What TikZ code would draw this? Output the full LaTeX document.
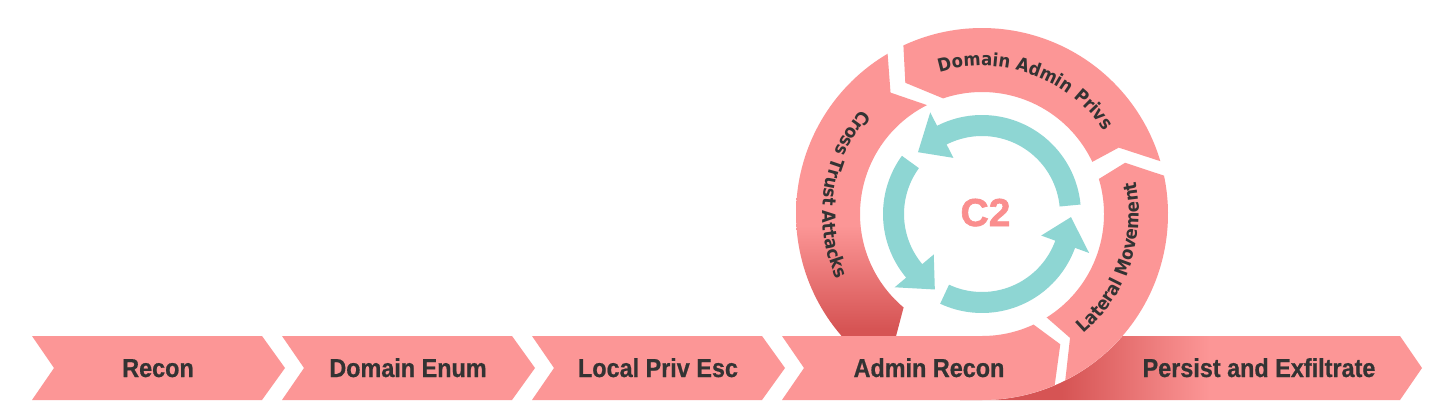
\documentclass[tikz,border=0pt]{standalone}
\usepackage{fontspec}
\usetikzlibrary{decorations.text}
\newfontfamily\chevfont{Liberation Sans Bold}[FakeStretch=0.9,FakeBold=0.6]
\newfontfamily\ringfont{DejaVu Sans Bold}[FakeStretch=0.9]
\newfontfamily\ctwofont{Liberation Sans Bold}[FakeBold=1.6]
\definecolor{ribpink}{RGB}{252,150,150}
\definecolor{ribdark}{RGB}{214,84,84}
\definecolor{tealc}{RGB}{142,214,211}
\definecolor{txtc}{RGB}{51,51,51}
\definecolor{ctwoc}{RGB}{250,142,142}
\pgfdeclarehorizontalshading{persistshade}{100bp}{color(0bp)=(ribdark); color(36bp)=(ribdark); color(52bp)=(ribpink); color(100bp)=(ribpink)}
\pgfdeclareverticalshading{crossshade}{100bp}{color(0bp)=(ribdark); color(27bp)=(ribdark); color(45bp)=(ribpink); color(100bp)=(ribpink)}
\newcommand{\tealarr}[3]{%
  \fill[tealfill] plot[domain=#1:#2, samples=40] ({99*cos(\x)},{99*sin(\x)})
   -- (#2:114) -- (#3:89) -- (#2:63)
   -- plot[domain=#2:#1, samples=40] ({78*cos(\x)},{78*sin(\x)}) -- cycle;}
\begin{document}
\begin{tikzpicture}[x=1pt,y=-1pt,
  ribfill/.style={fill=ribpink},
  tealfill/.style={fill=tealc},
  chevlab/.style={anchor=base, inner sep=0pt, text=txtc, font=\chevfont\fontsize{26}{30}\selectfont},
  ringlab/.style={decorate, decoration={text along path, text align=center, text={|\ringfont\fontsize{18.3}{20}\selectfont\color{txtc}|#1}}}]
\useasboundingbox (0,0) rectangle (1440,415);
\fill[white] (0,0) rectangle (1440,415);
% persist ribbon (goes behind the loop)
\shade[shading=persistshade] (960,336) -- (1400,336) -- (1422,368) -- (1400,400) -- (960,400) -- cycle;
\fill[white] (982,214) circle[radius=186];
% linear chevrons
\foreach \k/\lab in {0/Recon,1/Domain Enum,2/Local Priv Esc}{
  \fill[ribfill] ({32+250*\k},336) -- ({262+250*\k},336) -- ({285+250*\k},368) -- ({262+250*\k},400) -- ({32+250*\k},400) -- ({54+250*\k},368) -- cycle;
  \node[chevlab] (chev\k) at ({158+250*\k},377) {\lab};
}
\begin{scope}[shift={(982,214)}]
  % cross trust attacks (shaded, goes behind admin recon)
  \shade[shading=crossshade] plot[domain=-120.5:-222.6, samples=60] ({186*cos(\x)},{186*sin(\x)})
     -- (-87,126) -- (-230:122)
     -- plot[domain=-230:-116.8, samples=60] ({122*cos(\x)},{122*sin(\x)})
     -- (-127:152) -- cycle;
  % admin recon spiral segment
  \fill[ribfill] (-200,122) -- (0,122)
     -- plot[domain=90:65, samples=30] ({122*cos(\x)},{122*sin(\x)})
     -- (59:152) -- (67:186)
     -- plot[domain=67:90, samples=30] ({186*cos(\x)},{186*sin(\x)})
     -- (-200,186) -- (-178,154) -- cycle;
  % lateral movement
  \fill[ribfill] plot[domain=63.4:-11.9, samples=60] ({186*cos(\x)},{186*sin(\x)})
     -- (-19.7:152)
     -- plot[domain=-16.7:58, samples=60] ({122*cos(\x)},{122*sin(\x)})
     -- (54.6:152) -- cycle;
  % domain admin privs
  \fill[ribfill] plot[domain=-16.5:-115, samples=60] ({186*cos(\x)},{186*sin(\x)})
     -- (-120.3:152)
     -- plot[domain=-108.6:-25.3, samples=60] ({122*cos(\x)},{122*sin(\x)})
     -- (-25.9:152) -- cycle;
  % teal cycle arrows
  \tealarr{-5.5}{-117}{-136}
  \tealarr{-144}{-220}{-238}
  \tealarr{115}{20}{2}
  % ring labels
  \path[ringlab={Domain Admin Privs}] plot[domain=-140.4:-0.4, samples=80] ({148*cos(\x)},{148*sin(\x)});
  \path[ringlab={Cross Trust Attacks}] plot[domain=-120:-223, samples=80] ({159.5*cos(\x)},{159.5*sin(\x)});
  \path[ringlab={Lateral Movement}] plot[domain=70:-32.2, samples=80] ({157*cos(\x)},{157*sin(\x)});
  \node[anchor=base, inner sep=0pt, text=ctwoc, font=\ctwofont\fontsize{39}{42}\selectfont] (ctwo) at (3.5,12) {C2};
\end{scope}
\node[chevlab] (chev3) at (929,377) {Admin Recon};
\node[chevlab] (chev4) at (1259,377) {Persist and Exfiltrate};
\end{tikzpicture}
\end{document}
